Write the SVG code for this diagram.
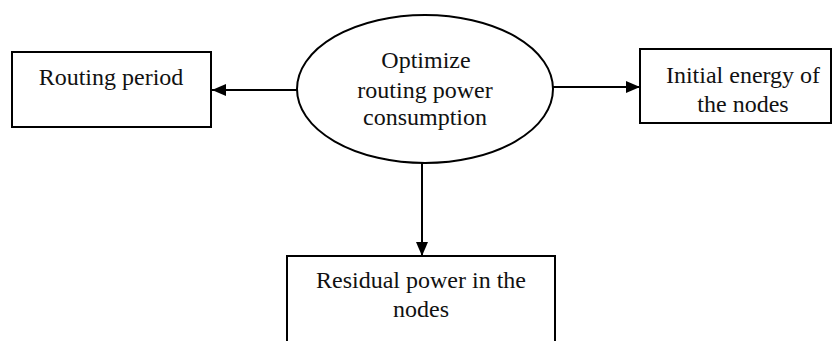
<svg xmlns="http://www.w3.org/2000/svg" width="833" height="341" viewBox="0 0 833 341">
<style>
.box{fill:#fff;stroke:#000;stroke-width:2}
.t{font-family:"Liberation Serif","Times New Roman",serif;font-size:24px;fill:#111;text-anchor:middle}
.c{stroke:#000;stroke-width:2;fill:none}
</style>
<defs>
<marker id="ah" viewBox="0 0 14 12" refX="14" refY="6" markerWidth="14" markerHeight="12" markerUnits="userSpaceOnUse" orient="auto">
<path d="M0,0L14,6L0,12Z" fill="#000"/>
</marker>
</defs>
<rect width="833" height="341" fill="#fff"/>
<g id="connectors">
<line class="c" x1="297" y1="90" x2="212" y2="90" marker-end="url(#ah)"/>
<line class="c" x1="553" y1="87" x2="640" y2="87" marker-end="url(#ah)"/>
<line class="c" x1="422" y1="163" x2="422" y2="256" marker-end="url(#ah)"/>
</g>
<g id="routing-period">
<rect class="box" x="12" y="52" width="199" height="75"/>
<text class="t" x="111" y="85">Routing period</text>
</g>
<g id="optimize">
<ellipse class="box" cx="425" cy="89" rx="128" ry="74"/>
<text class="t" x="426" y="68">Optimize</text>
<text class="t" x="425" y="98">routing power</text>
<text class="t" x="425" y="125">consumption</text>
</g>
<g id="initial-energy">
<rect class="box" x="640" y="49" width="191" height="74"/>
<text class="t" x="743" y="83">Initial energy of</text>
<text class="t" x="743" y="112">the nodes</text>
</g>
<g id="residual-power">
<rect class="box" x="287" y="256" width="268" height="100"/>
<text class="t" x="421" y="288">Residual power in the</text>
<text class="t" x="421" y="317">nodes</text>
</g>
</svg>
